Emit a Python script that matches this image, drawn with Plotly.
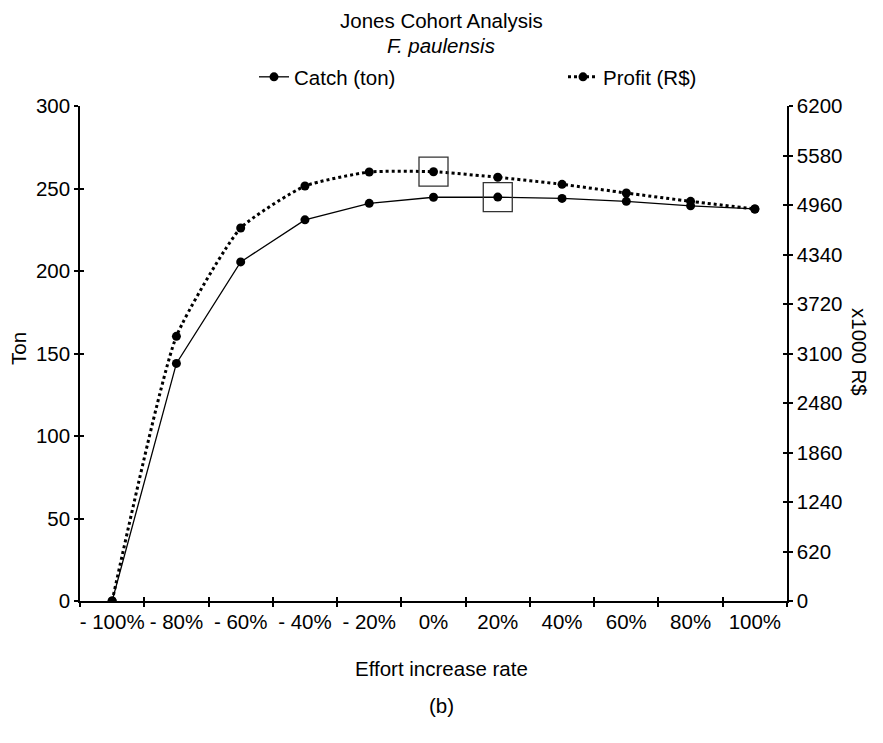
import plotly.graph_objects as go

# effort scenarios (x categories)
effort = ["- 100%", "- 80%", "- 60%", "- 40%", "- 20%", "0%",
          "20%", "40%", "60%", "80%", "100%"]

# catch in tons (left axis)
catch_ton = [0, 144, 205.5, 231, 241, 244.7, 244.8, 244, 242.2, 239.5, 237.6]

# profit in x1000 R$ (right axis)
profit = [0, 3315, 4672, 5198, 5373, 5377, 5307, 5219, 5110, 5006, 4910]

FONT = "Liberation Sans, Arial, sans-serif"
FS = 20.5
BLACK = "#000000"

# plot area in page pixels; page body adds an 8px margin, so keep the
# figure 16px smaller than the window to avoid scrollbars
L, T, PW, PH = 72, 98, 707, 495
W, H = 867, 727


def px_x(x):
    # screenshot x -> paper x
    return (x - 8 - L) / PW


def px_y(y):
    # screenshot y -> paper y
    return (T + PH - (y - 8)) / PH


fig = go.Figure()

fig.add_trace(go.Scatter(
    x=effort, y=catch_ton, name="Catch (ton)",
    mode="lines+markers",
    line=dict(color=BLACK, width=1.3),
    marker=dict(color=BLACK, size=9),
    xaxis="x", yaxis="y", legend="legend",
))

fig.add_trace(go.Scatter(
    x=effort, y=profit, name="Profit (R$)",
    mode="lines+markers",
    line=dict(color=BLACK, width=3, dash="dot", shape="spline", smoothing=0.5),
    marker=dict(color=BLACK, size=9),
    xaxis="x", yaxis="y2", legend="legend2",
))

# boxes around the maximum of each series
i_c = catch_ton.index(max(catch_ton))
i_p = profit.index(max(profit))
box = dict(symbol="square-open", size=29, color="#333333", line=dict(width=1.3))
fig.add_trace(go.Scatter(x=[effort[i_c]], y=[catch_ton[i_c]], mode="markers",
                         marker=box, showlegend=False, hoverinfo="skip",
                         xaxis="x", yaxis="y"))
fig.add_trace(go.Scatter(x=[effort[i_p]], y=[profit[i_p]], mode="markers",
                         marker=box, showlegend=False, hoverinfo="skip",
                         xaxis="x", yaxis="y2"))

# invisible traces so the overlay axes (inner half of cross ticks) get drawn
fig.add_trace(go.Scatter(x=effort, y=catch_ton, mode="none", showlegend=False,
                         hoverinfo="skip", xaxis="x2", yaxis="y3"))
fig.add_trace(go.Scatter(x=effort, y=profit, mode="none", showlegend=False,
                         hoverinfo="skip", xaxis="x", yaxis="y4"))

axis_common = dict(showline=True, linecolor=BLACK, linewidth=1.5,
                   ticks="outside", ticklen=4, tickwidth=1.5, tickcolor=BLACK,
                   showgrid=False, zeroline=False, automargin=False,
                   tickfont=dict(size=FS, color=BLACK, family=FONT))
inner_ticks = dict(ticks="inside", ticklen=4, tickwidth=1.5, tickcolor=BLACK,
                   showticklabels=False, showgrid=False, zeroline=False,
                   showline=False)
legend_common = dict(orientation="h", xanchor="left", yanchor="middle",
                     y=px_y(77), font=dict(size=FS),
                     bgcolor="rgba(0,0,0,0)")

fig.update_layout(
    width=W, height=H,
    margin=dict(l=L, r=W - L - PW, t=T, b=H - T - PH),
    paper_bgcolor="white", plot_bgcolor="white",
    font=dict(family=FONT, size=FS, color=BLACK),
    xaxis=dict(axis_common, type="category", categoryarray=effort,
               range=[-0.5, 10.5], tickson="boundaries", tickangle=0,
               ticklabelstandoff=2),
    xaxis2=dict(inner_ticks, overlaying="x", type="category",
                categoryarray=effort, range=[-0.5, 10.5],
                tickson="boundaries"),
    yaxis=dict(axis_common, range=[0, 300], dtick=50),
    yaxis2=dict(axis_common, overlaying="y", side="right",
                range=[0, 6200], dtick=620),
    yaxis3=dict(inner_ticks, overlaying="y", range=[0, 300], dtick=50),
    yaxis4=dict(inner_ticks, overlaying="y", side="right", anchor="x",
                range=[0, 6200], dtick=620),
    showlegend=True,
    legend=dict(legend_common, x=px_x(254)),
    legend2=dict(legend_common, x=px_x(563)),
)

# title sits at the very top of the figure
fig.add_annotation(text="Jones Cohort Analysis", xref="paper", yref="paper",
                   x=px_x(441), y=px_y(7), xanchor="center", yanchor="top",
                   showarrow=False, font=dict(size=FS, family=FONT, color=BLACK))

annotations = [
    ("<i>F. paulensis</i>", 45),
    ("Effort increase rate", 668),
    ("(b)", 705),
]
for text, y in annotations:
    fig.add_annotation(text=text, xref="paper", yref="paper",
                       x=px_x(441), y=px_y(y),
                       xanchor="center", yanchor="middle", showarrow=False,
                       font=dict(size=FS, family=FONT, color=BLACK))

fig.add_annotation(text="Ton", xref="paper", yref="paper",
                   x=px_x(18), y=px_y(349), textangle=-90,
                   xanchor="center", yanchor="middle", showarrow=False,
                   font=dict(size=FS, family=FONT, color=BLACK))
fig.add_annotation(text="x1000 R$", xref="paper", yref="paper",
                   x=px_x(860), y=px_y(352), textangle=90,
                   xanchor="center", yanchor="middle", showarrow=False,
                   font=dict(size=FS, family=FONT, color=BLACK))

fig.write_html("out.html")
